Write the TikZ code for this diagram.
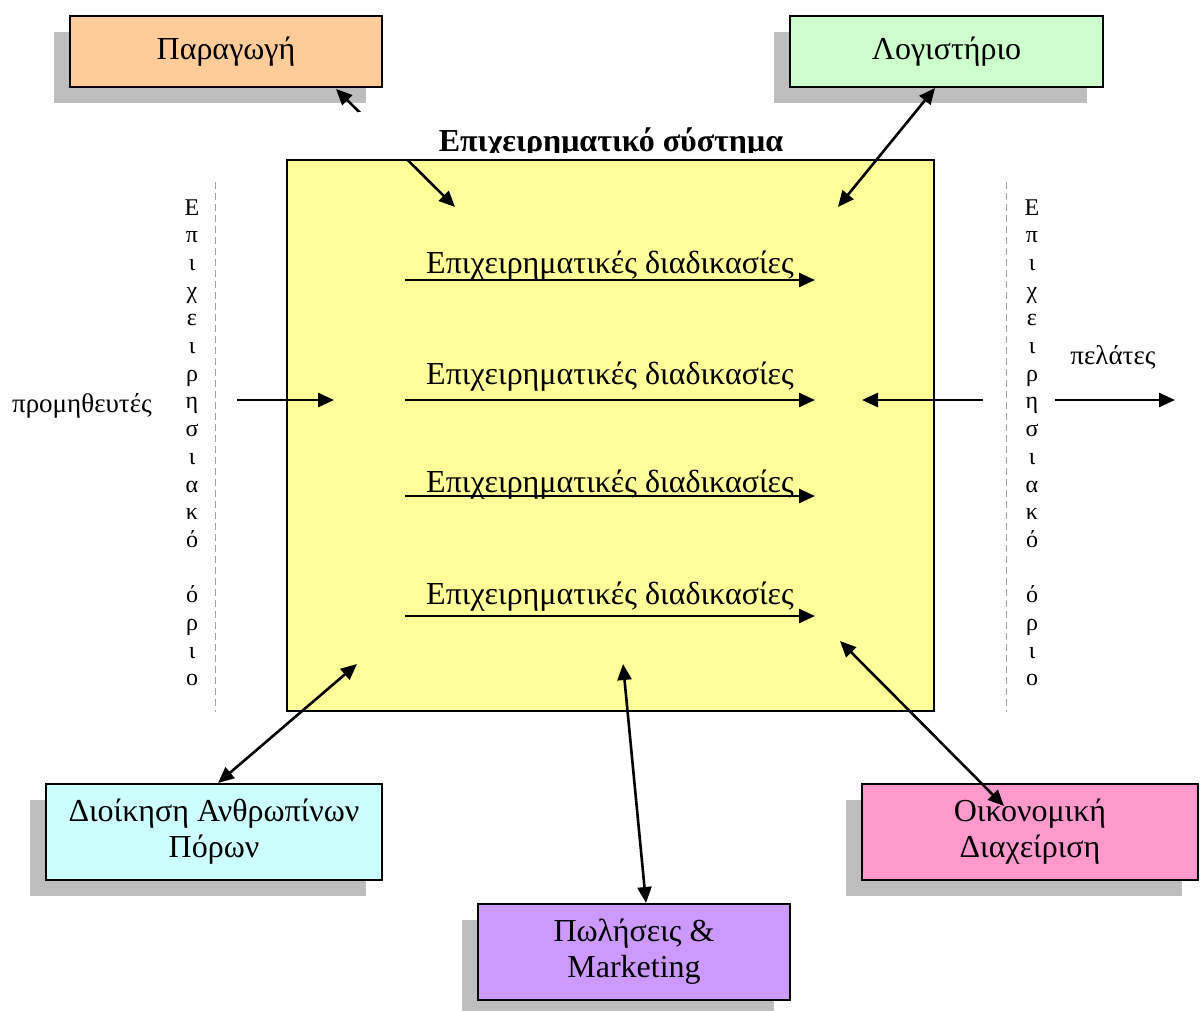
\documentclass[tikz,border=0pt]{standalone}
\usepackage{fontspec}
\setmainfont{Liberation Serif}
\usetikzlibrary{arrows.meta,shadows}

\definecolor{sysyellow}{HTML}{FFFF99}
\definecolor{prodfill}{HTML}{FFCC99}
\definecolor{accfill}{HTML}{CCFFCC}
\definecolor{hrfill}{HTML}{CCFFFF}
\definecolor{salesfill}{HTML}{CC99FF}
\definecolor{finfill}{HTML}{FF99CC}
\definecolor{shadowgray}{HTML}{BDBDBD}
\definecolor{borderdash}{HTML}{A0A0A0}

\tikzset{
  dept/.style={draw=black, line width=1.8pt, inner sep=0pt, align=center,
    font=\fontsize{32}{36}\selectfont,
    drop shadow={shadow xshift=-16pt, shadow yshift=-16pt, fill=shadowgray, opacity=1}},
  flow/.style={line width=2.6pt, -{Triangle[length=16pt,width=14pt]}},
  twoway/.style={line width=2.6pt, {Triangle[length=16pt,width=14pt]}-{Triangle[length=16pt,width=14pt]}},
  proclabel/.style={anchor=base, inner sep=0pt, font=\fontsize{32}{36}\selectfont},
  sidelabel/.style={anchor=base, inner sep=0pt, font=\fontsize{27}{30}\selectfont},
  letter/.style={anchor=base, inner sep=0pt, font=\fontsize{24}{28}\selectfont},
  boundary/.style={borderdash, line width=0.8pt, dash pattern=on 7pt off 4pt},
}

\begin{document}
\begin{tikzpicture}[x=1pt, y=-1pt]
  \useasboundingbox[fill=white] (0,0) rectangle (1200,1010);

  % business system
  \node[draw=black, fill=sysyellow, line width=2pt, minimum width=647pt,
        minimum height=551pt, inner sep=0pt] (sys) at (610.5,435.5) {};

  % departments
  \node[dept, fill=prodfill, minimum width=312pt, minimum height=71pt] (prod) at (226,51.5) {Παραγωγή};
  \node[dept, fill=accfill, minimum width=313pt, minimum height=71pt] (acc) at (946.5,51.5) {Λογιστήριο};
  \node[dept, fill=hrfill, minimum width=336pt, minimum height=96pt] (hr) at (214,832) {Διοίκηση Ανθρωπίνων\\Πόρων};
  \node[dept, fill=salesfill, minimum width=312pt, minimum height=96pt] (sales) at (634,952) {Πωλήσεις \&\\Marketing};
  \node[dept, fill=finfill, minimum width=336pt, minimum height=96pt] (fin) at (1030,832) {Οικονομική\\Διαχείριση};

  % company boundary lines with their stacked captions
  \draw[boundary] (215,182) coordinate (lbTop) -- (215,712) coordinate (lbBot);
  \draw[boundary] (1006,182) coordinate (rbTop) -- (1006,712) coordinate (rbBot);
  \foreach \ch [count=\i] in {Ε,π,ι,χ,ε,ι,ρ,η,σ,ι,α,κ,ό,{},ό,ρ,ι,ο} {
    \node[letter] (bl\i) at (192,{215+(\i-1)*27.7}) {\ch};
    \node[letter] (br\i) at (1032,{215+(\i-1)*27.7}) {\ch};
  }

  % processes
  \foreach \yb/\ya [count=\k] in {273/280, 384/400, 492/496, 604/616} {
    \node[proclabel] (proc\k) at (610,\yb) {Επιχειρηματικές διαδικασίες};
    \coordinate (ps\k) at (405,\ya);
    \coordinate (pe\k) at (815,\ya);
    \draw[flow] (ps\k) -- (pe\k);
  }

  % suppliers and customers
  \node[sidelabel] (supp) at (82,412) {προμηθευτές};
  \node[sidelabel] (cust) at (1113,364) {πελάτες};
  \coordinate (suppOut) at (237,400);
  \coordinate (suppIn) at (334,400);
  \draw[flow] (suppOut) -- (suppIn);
  \coordinate (custFrom) at (983,400);
  \coordinate (custTo) at (862,400);
  \draw[flow] (custFrom) -- (custTo);
  \coordinate (custOut) at (1055,400);
  \coordinate (custEnd) at (1175,400);
  \draw[flow] (custOut) -- (custEnd);

  % links between departments and the system
  \coordinate (prodIn) at (455,207);
  \coordinate (prodEnd) at (336,89);
  \draw[twoway] (prodIn) -- (prodEnd);
  \coordinate (accIn) at (838,207);
  \coordinate (accEnd) at (935,88);
  \draw[twoway] (accIn) -- (accEnd);
  \coordinate (hrIn) at (357,664);
  \coordinate (hrEnd) at (218,783);
  \draw[twoway] (hrIn) -- (hrEnd);
  \coordinate (salesIn) at (623,664);
  \coordinate (salesEnd) at (646,903);
  \draw[twoway] (salesIn) -- (salesEnd);
  \coordinate (finIn) at (840,641);
  \coordinate (finEnd) at (1004,806);
  \draw[twoway] (finIn) -- (finEnd);

  % title plate; the text frame cuts the lettering just under the baseline
  \node[fill=white, minimum width=504pt, minimum height=47pt, inner sep=0pt] (titlebg) at (610,135.5) {};
  \begin{scope}
    \clip (358,112) rectangle (862,152.5);
    \node[anchor=base, inner sep=0pt, font=\bfseries\fontsize{32}{36}\selectfont] (title) at (611,151) {Επιχειρηματικό σύστημα};
  \end{scope}
\end{tikzpicture}
\end{document}
